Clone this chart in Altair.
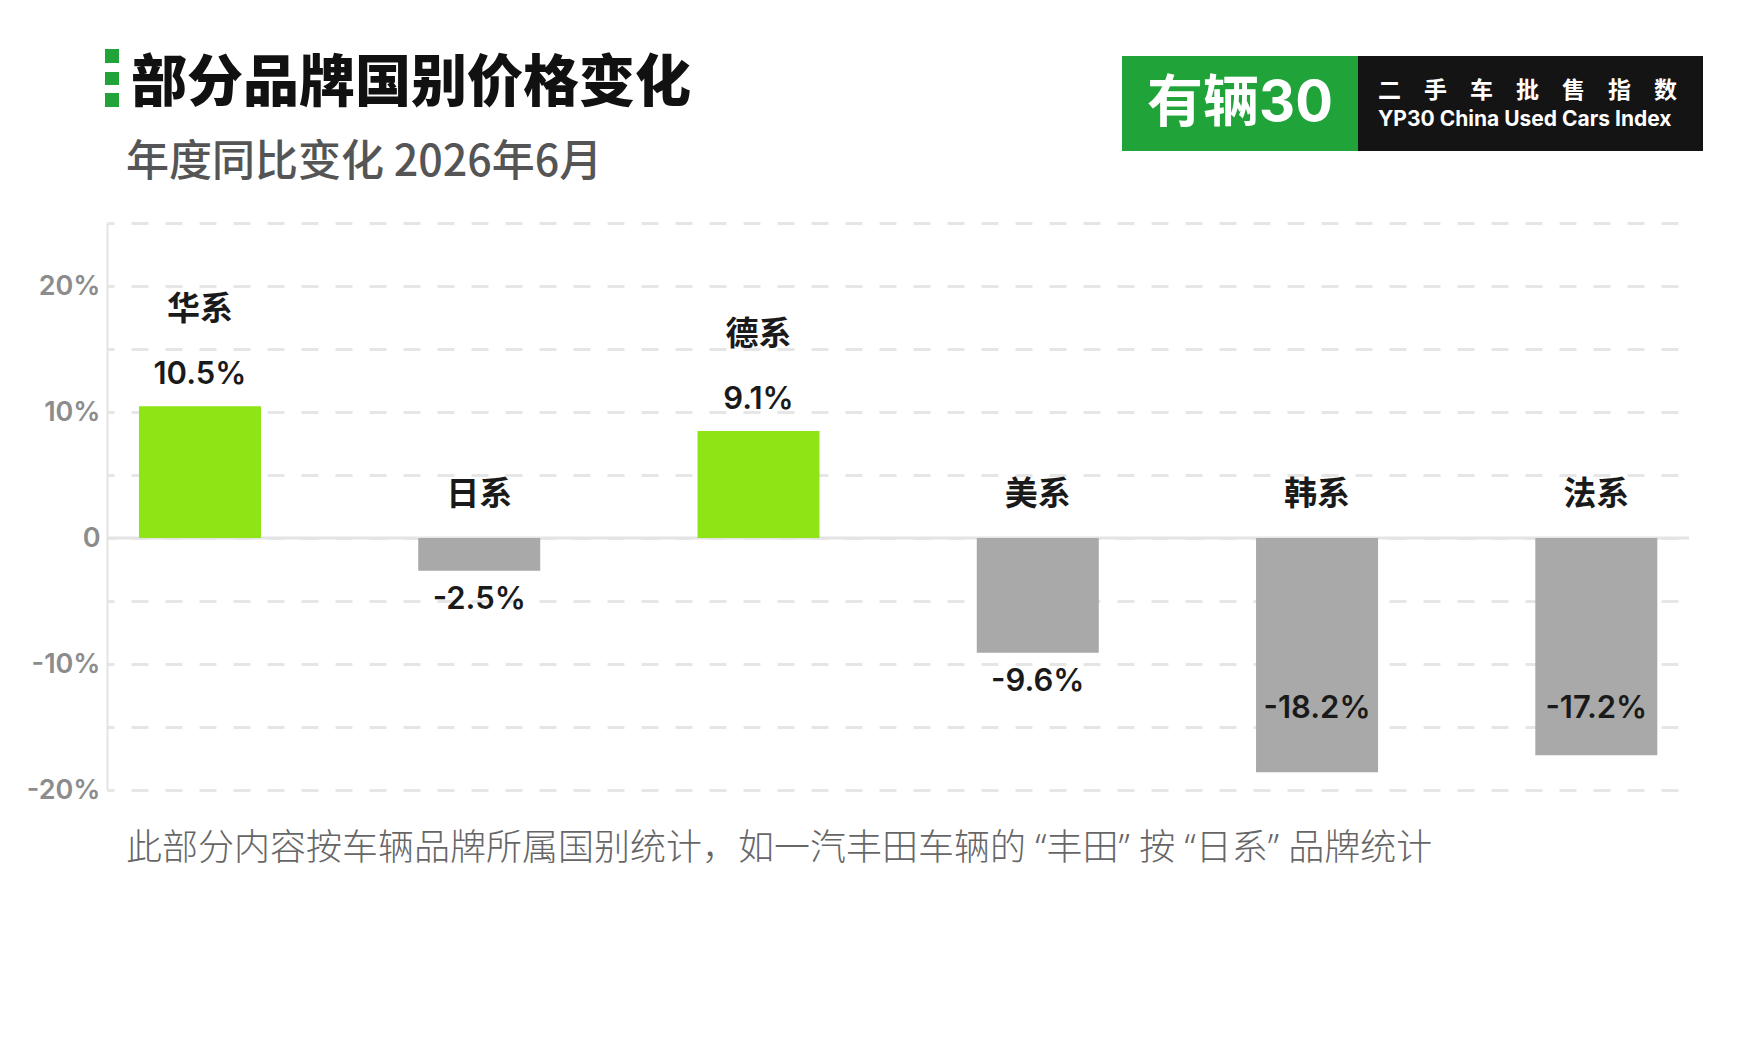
import altair as alt
import pandas as pd

# ---------------- data ----------------
categories = ["华系", "日系", "德系", "美系", "韩系", "法系"]
# bar lengths as drawn in the picture (%)
bar_values = [10.45, -2.6, 8.5, -9.1, -18.6, -17.25]
# printed value labels
value_labels = ["10.5%", "-2.5%", "9.1%", "-9.6%", "-18.2%", "-17.2%"]
y_ticks = [-20, -15, -10, -5, 0, 5, 10, 15, 20, 25]

title_text = "部分品牌国别价格变化"
subtitle_text = "年度同比变化 2026年6月"
footnote_text = "此部分内容按车辆品牌所属国别统计，如一汽丰田车辆的 “丰田” 按 “日系” 品牌统计"
logo_left = "有辆30"
logo_right_cn = "二　手　车　批　售　指　数"
logo_right_en = "YP30 China Used Cars Index"

df = pd.DataFrame({
    "cat": categories,
    "idx": list(range(len(categories))),
    "v": bar_values,
    "lab": value_labels,
})

W, H = 1582, 567
GREEN_BAR = "#8ee414"
GRAY_BAR = "#a9a9a9"
LOGO_GREEN = "#20a338"
TXT = "#1a1a1a"
CJK = "Noto Sans CJK SC"

x_enc = alt.X("idx:Q", scale=alt.Scale(domain=[-0.315, 5.314], nice=False, zero=False), axis=None)
y_scale = alt.Scale(domain=[-20, 25], nice=False, zero=False)

base = alt.Chart(df)
one = alt.Data(values=[{"k": 1}])

zero_rule = alt.Chart(one).mark_rule(color="#e4e4e4", strokeWidth=3).encode(
    y=alt.datum(0, scale=y_scale)
)

bars = base.mark_bar(size=122).encode(
    x=x_enc,
    y=alt.Y(
        "v:Q",
        scale=y_scale,
        axis=alt.Axis(
            values=y_ticks,
            labelExpr="datum.value == 0 ? '0' : (datum.value % 10 == 0 ? datum.value + '%' : '')",
            grid=True,
            gridDash=[17, 17],
            gridDashOffset=10,
            gridColor="#e6e6e6",
            gridWidth=3,
            domainColor="#e3e3e3",
            domainWidth=2,
            ticks=False,
            labelPadding=7,
            labelFont="Inter",
            labelFontSize=27,
            labelFontWeight=600,
            labelColor="#8c8c8c",
            labelOverlap=False,
            title=None,
        ),
    ),
    y2=alt.datum(0),
    color=alt.condition("datum.v > 0", alt.value(GREEN_BAR), alt.value(GRAY_BAR)),
)

val_style = dict(font="Inter", fontSize=31, fontWeight=600, color=TXT, baseline="middle", align="center")
name_style = dict(font=CJK, fontSize=33, fontWeight=700, color=TXT, baseline="middle", align="center")

pos_val = base.transform_filter("datum.v > 0").mark_text(dy=-31, **val_style).encode(
    x=x_enc, y=alt.Y("v:Q"), text="lab:N"
)
neg_val = (
    base.transform_filter("datum.v < 0")
    .transform_calculate(a="max(datum.v, -11.25)")
    .mark_text(dy=29, **val_style)
    .encode(x=x_enc, y=alt.Y("a:Q"), text="lab:N")
)
pos_name = base.transform_filter("datum.v > 0").mark_text(dy=-96, **name_style).encode(
    x=x_enc, y=alt.Y("v:Q"), text="cat:N"
)
neg_name = base.transform_filter("datum.v < 0").mark_text(dy=-43, **name_style).encode(
    x=x_enc, y=alt.datum(0), text="cat:N"
)

# ---------------- header / decorations ----------------
def rect(x1, x2, y1, y2, color):
    return alt.Chart(one).mark_rect(color=color).encode(
        x=alt.value(x1), x2=alt.value(x2), y=alt.value(y1), y2=alt.value(y2)
    )

def label(text, x, y, **kw):
    return alt.Chart(one).mark_text(**kw).encode(
        x=alt.value(x), y=alt.value(y), text=alt.value(text)
    )

squares = [
    rect(-2, 12, -174, -160, LOGO_GREEN),
    rect(-2, 12, -151, -138, LOGO_GREEN),
    rect(-2, 12, -130, -116, LOGO_GREEN),
]
title = label(title_text, 24, -139, font=CJK, fontSize=56, fontWeight=900, color="#111111",
              align="left", baseline="middle")
subtitle = label(subtitle_text, 19, -60, font=CJK, fontSize=43, fontWeight=500, color="#555555",
                 align="left", baseline="middle")
logo_g = rect(1015, 1251, -167, -72, LOGO_GREEN)
logo_b = rect(1251, 1596, -167, -72, "#141414")
logo_t1 = label(logo_left, 1133, -119, font="Inter, " + CJK, fontSize=56, fontWeight=700, color="white",
                align="center", baseline="middle")
logo_t2 = label(logo_right_cn, 1271, -132, font=CJK, fontSize=23, fontWeight=700, color="white",
                align="left", baseline="middle")
logo_t3 = label(logo_right_en, 1271, -103, font="Inter", fontSize=21, fontWeight=700, color="white",
                align="left", baseline="middle")
footnote = label(footnote_text, 19, 626, font="Noto Sans, " + CJK, fontSize=36, fontWeight=300,
                 color="#666666", align="left", baseline="middle")

chart = alt.layer(
    zero_rule, bars, pos_val, neg_val, pos_name, neg_name,
    *squares, title, subtitle, logo_g, logo_b, logo_t1, logo_t2, logo_t3, footnote,
).properties(
    width=W,
    height=H,
    background="white",
    autosize=alt.AutoSizeParams(type="none"),
    padding={"left": 99, "top": 215, "right": 50, "bottom": 230},
).configure_view(strokeWidth=0)

chart.save("out.html", embed_options={"renderer": "svg", "actions": False})
